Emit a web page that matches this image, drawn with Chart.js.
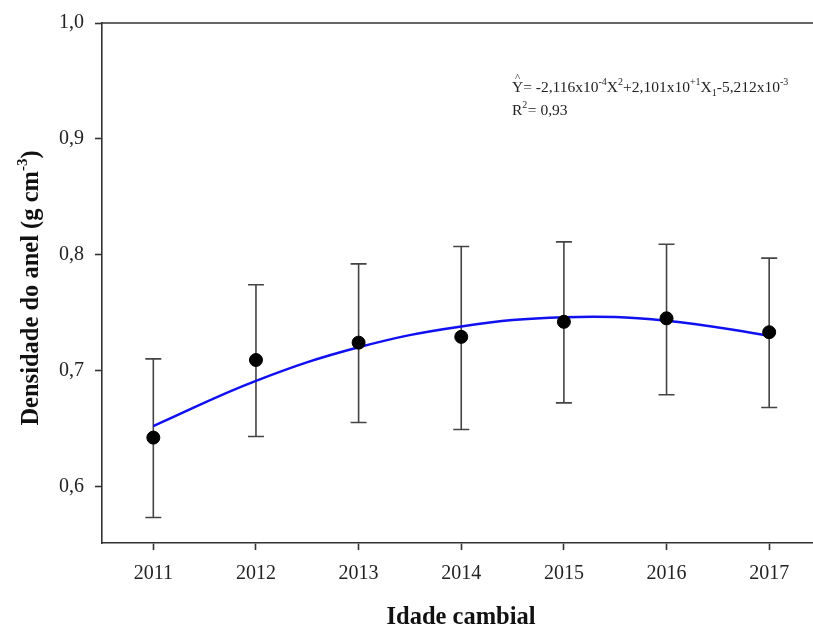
<!DOCTYPE html>
<html><head><meta charset="utf-8">
<script src="https://cdn.jsdelivr.net/npm/chart.js@4/dist/chart.umd.min.js"></script>
<style>
html,body{margin:0;padding:0;background:#fff;overflow:hidden;}
#wrap{width:828px;height:628px;position:relative;}
</style></head>
<body><div id="wrap"><canvas id="c"></canvas></div>
<script>
const years = [2011, 2012, 2013, 2014, 2015, 2016, 2017];
const means = [0.642, 0.709, 0.724, 0.729, 0.742, 0.745, 0.733];
const upper = [0.710, 0.774, 0.792, 0.807, 0.811, 0.809, 0.797];
const lower = [0.573, 0.643, 0.655, 0.649, 0.672, 0.679, 0.668];
const fitted = [0.652, 0.691, 0.720, 0.738, 0.746, 0.743, 0.730];
const yTicks = [0.6, 0.7, 0.8, 0.9, 1.0];
const xTitle = 'Idade cambial';
const yTitle = 'Densidade do anel (g cm';

const serif = "'Liberation Serif', 'Times New Roman', serif";
const axisColor = '#333';

const errorBars = {
  id: 'errorBars',
  beforeDatasetsDraw(chart) {
    const {ctx, scales: {x, y}} = chart;
    ctx.save();
    ctx.strokeStyle = '#444';
    ctx.lineWidth = 1.6;
    years.forEach((yr, i) => {
      const px = x.getPixelForValue(yr);
      const pu = y.getPixelForValue(upper[i]);
      const pl = y.getPixelForValue(lower[i]);
      ctx.beginPath();
      ctx.moveTo(px, pu); ctx.lineTo(px, pl);
      ctx.moveTo(px - 8, pu); ctx.lineTo(px + 8, pu);
      ctx.moveTo(px - 8, pl); ctx.lineTo(px + 8, pl);
      ctx.stroke();
    });
    ctx.restore();
  }
};

const decor = {
  id: 'decor',
  afterDraw(chart) {
    const {ctx, chartArea: a} = chart;
    ctx.save();
    ctx.strokeStyle = axisColor; ctx.lineWidth = 1.6;
    ctx.beginPath(); ctx.moveTo(a.left, a.top); ctx.lineTo(a.right, a.top); ctx.stroke();
    ctx.fillStyle = '#111';
    ctx.font = 'bold 24.5px ' + serif;
    ctx.textAlign = 'center'; ctx.textBaseline = 'alphabetic';
    ctx.fillText(xTitle, 461, 624);
    ctx.save();
    ctx.translate(38, 288);
    ctx.rotate(-Math.PI / 2);
    ctx.font = 'bold 24.5px ' + serif;
    const w1 = ctx.measureText(yTitle).width;
    ctx.font = 'bold 15px ' + serif;
    const w2 = ctx.measureText('-3').width;
    ctx.font = 'bold 24.5px ' + serif;
    const w3 = ctx.measureText(')').width;
    const tot = w1 + w2 + w3;
    let sx = -tot / 2;
    ctx.textAlign = 'left';
    ctx.fillText(yTitle, sx, 0);
    ctx.font = 'bold 15px ' + serif;
    ctx.fillText('-3', sx + w1, -11);
    ctx.font = 'bold 24.5px ' + serif;
    ctx.fillText(')', sx + w1 + w2, 0);
    ctx.restore();
    const parts = [
      ['Y', 0], ['= -2,116x10', 0], ['-4', -1], ['X', 0], ['2', -1],
      ['+2,101x10', 0], ['+1', -1], ['X', 0], ['1', 1], ['-5,212x10', 0], ['-3', -1]
    ];
    let ex = 512; const ey = 92;
    ctx.textAlign = 'left'; ctx.fillStyle = '#222';
    parts.forEach(([t, s], idx) => {
      ctx.font = (s === 0 ? '15.5px ' : '10px ') + serif;
      const dy = s === -1 ? -7 : (s === 1 ? 4 : 0);
      ctx.fillText(t, ex, ey + dy);
      if (idx === 0) {
        const wY = ctx.measureText('Y').width;
        ctx.font = '11px ' + serif;
        ctx.textAlign = 'center';
        ctx.fillText('^', ex + wY / 2, ey - 11);
        ctx.textAlign = 'left';
        ctx.font = '15.5px ' + serif;
      }
      ex += ctx.measureText(t).width;
    });
    ctx.font = '15.5px ' + serif;
    ctx.fillText('R', 512, 115);
    let rw = ctx.measureText('R').width;
    ctx.font = '10px ' + serif;
    ctx.fillText('2', 512 + rw, 108);
    ctx.font = '15.5px ' + serif;
    ctx.fillText('= 0,93', 512 + rw + 5.5, 115);
    ctx.restore();
  }
};

new Chart(document.getElementById('c'), {
  type: 'scatter',
  data: {
    datasets: [
      {
        type: 'scatter',
        data: years.map((x, i) => ({x, y: means[i]})),
        backgroundColor: '#000', borderColor: '#000',
        pointRadius: 6.5, pointHoverRadius: 6.5, order: 0
      },
      {
        type: 'line',
        data: years.map((x, i) => ({x, y: fitted[i]})),
        borderColor: '#1010f0', borderWidth: 2.5,
        pointRadius: 0, tension: 0.4, fill: false, order: 1
      }
    ]
  },
  options: {
    responsive: true, maintainAspectRatio: false, animation: false,
    layout: {padding: {top: 22, left: 0, right: 0, bottom: 0}},
    plugins: {legend: {display: false}, tooltip: {enabled: false}},
    scales: {
      x: {
        type: 'linear', min: 2010.5, max: 2017.5,
        afterFit(s) { s.height = 85; },
        afterBuildTicks(s) { s.ticks = years.map(v => ({value: v})); },
        grid: {drawOnChartArea: false, tickLength: 7, tickColor: axisColor, tickWidth: 1.6},
        border: {color: axisColor, width: 1.6},
        ticks: {color: '#222', font: {family: serif, size: 20}, padding: 12,
          callback: v => String(v)}
      },
      y: {
        min: 0.551, max: 1.0,
        afterFit(s) { s.width = 102; },
        afterBuildTicks(s) { s.ticks = yTicks.map(v => ({value: v})); },
        grid: {drawOnChartArea: false, tickLength: 7, tickColor: axisColor, tickWidth: 1.6},
        border: {color: axisColor, width: 1.6},
        ticks: {color: '#222', font: {family: serif, size: 20}, padding: 11,
          callback: v => v.toFixed(1).replace('.', ',')}
      }
    }
  },
  plugins: [errorBars, decor]
});
</script></body></html>
